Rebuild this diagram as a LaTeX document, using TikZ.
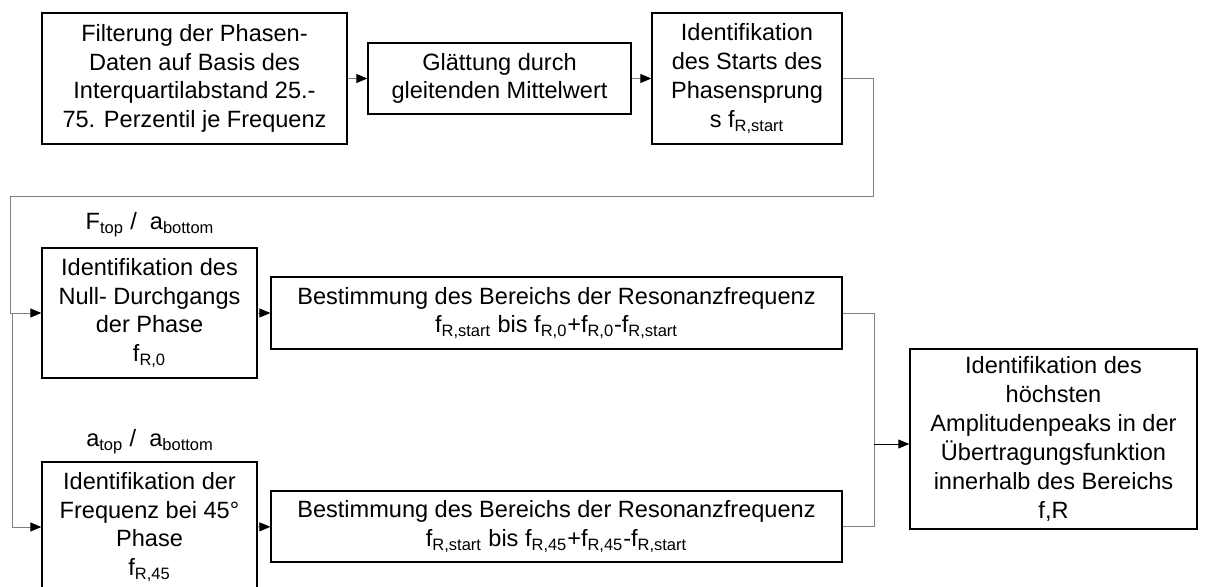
\documentclass[tikz,border=0pt]{standalone}
\usepackage{fontspec}
\setmainfont{Liberation Sans}
\usetikzlibrary{arrows.meta}

\begin{document}
\begin{tikzpicture}[
  x=0.02cm, y=-0.02cm,
  flow/.style={-{Triangle[length=0.22cm, width=0.18cm, color=black]}, draw=gray, line width=0.5pt},
  wire/.style={draw=gray, line width=0.5pt},
  box/.style={rectangle, draw=black, line width=0.8pt, align=center, inner sep=0pt, font=\fontsize{13.4}{16.4}\selectfont},
  lbl/.style={font=\fontsize{13.4}{16.4}\selectfont}
]
\useasboundingbox (0,0) rectangle (1208,587);

\node[box, minimum width=6.1cm, minimum height=2.62cm] (filt) at (194.5,78.5) {Filterung der Phasen-\\Daten auf Basis des\\Interquartilabstand 25.-\\75. Perzentil je Frequenz};
\node[box, minimum width=5.26cm, minimum height=1.42cm] (glatt) at (499.5,78.5) {Glättung durch\\gleitenden Mittelwert};
\node[box, minimum width=3.8cm, minimum height=2.62cm] (start) at (747,78.5) {Identifikation\\des Starts des\\Phasensprung\\s f\textsubscript{R,start}};

\node[lbl] (lbltop) at (150,225) {F\textsubscript{top} /\ \ a\textsubscript{bottom}};
\node[box, minimum width=4.3cm, minimum height=2.6cm] (null) at (149.5,313) {Identifikation des\\Null- Durchgangs\\der Phase\\f\textsubscript{R,0}};
\node[box, minimum width=11.42cm, minimum height=1.44cm] (ber0) at (556.5,313) {Bestimmung des Bereichs der Resonanzfrequenz\\f\textsubscript{R,start} bis f\textsubscript{R,0}+f\textsubscript{R,0}-f\textsubscript{R,start}};

\node[lbl] (lblmid) at (150,442) {a\textsubscript{top} /\ \ a\textsubscript{bottom}};
\node[box, minimum width=4.3cm, minimum height=2.6cm] (f45) at (149.5,527) {Identifikation der\\Frequenz bei 45°\\Phase\\f\textsubscript{R,45}};
\node[box, minimum width=11.42cm, minimum height=1.42cm] (ber45) at (556.5,526.5) {Bestimmung des Bereichs der Resonanzfrequenz\\f\textsubscript{R,start} bis f\textsubscript{R,45}+f\textsubscript{R,45}-f\textsubscript{R,start}};

\node[box, minimum width=5.74cm, minimum height=3.6cm] (peak) at (1053.5,439) {Identifikation des\\höchsten\\Amplitudenpeaks in der\\Übertragungsfunktion\\innerhalb des Bereichs\\f,R};

\coordinate (turn) at (873,196);
\coordinate (back) at (10,196);
\coordinate (split) at (12,313);
\coordinate (join) at (874,444);

% Arrows
\draw[flow] (filt) -- (glatt);
\draw[flow] (glatt) -- (start);
\draw[flow] (start.east) -| (turn) -- (back) |- (null.west);
\draw[flow] (split) |- (f45.west);
\draw[flow] (null) -- (ber0);
\draw[flow] (f45) -- (ber45);
\draw[wire] (ber0.east) -| (join);
\draw[wire] (ber45.east) -| (join);
\draw[flow, draw=black] (join) -- (join -| peak.west);

\end{tikzpicture}
\end{document}
